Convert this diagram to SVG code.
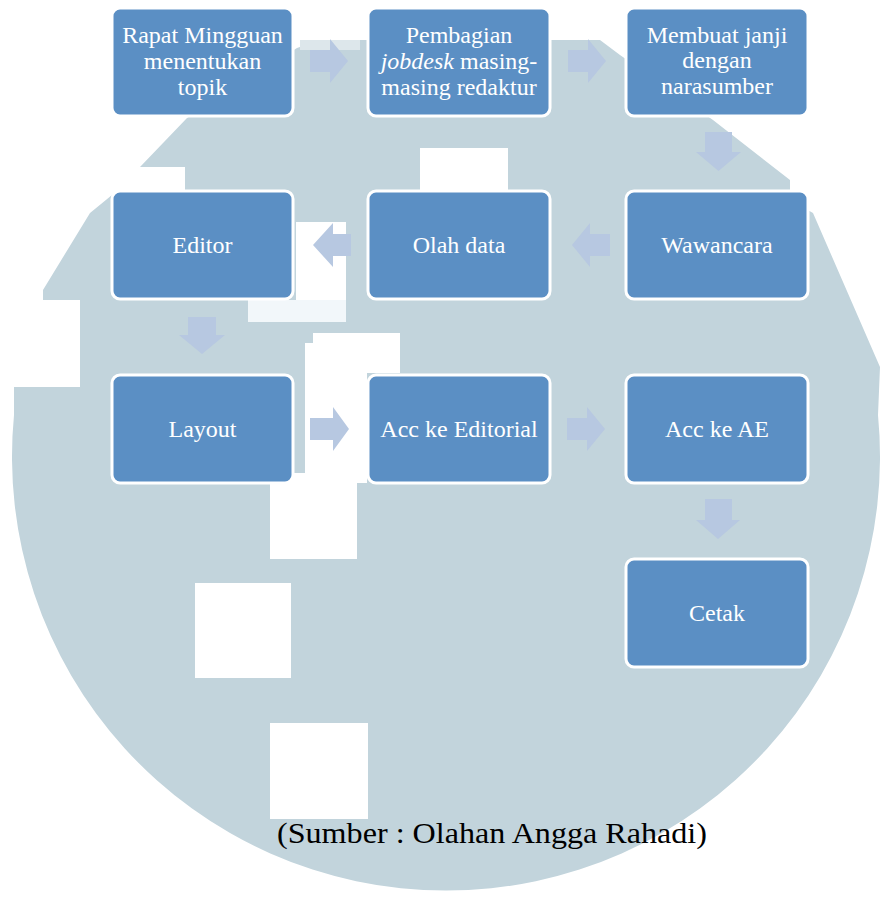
<svg xmlns="http://www.w3.org/2000/svg" width="885" height="901" viewBox="0 0 885 901">
<style>
.box{fill:#5B8FC4;stroke:#FFFFFF;stroke-width:3}
.lbl{font-size:24px;fill:#FFFFFF;text-anchor:middle}
.arr{fill:#B7C8E1}
.hole{fill:#FFFFFF}
.soft{fill:#F2F7FA}
</style>
<rect width="885" height="901" fill="#FFFFFF"/>
<g id="background">
<path d="M297,48 L320,40 L600,40 L620,55 L713,120 L790,180 L790,200 L813,213 L880,367 L878,415 A434,434 0 1 1 14,415 L14,387 L80,387 L80,300 L43,300 L43,290 L90,213 L112,195 L185,190 L185,167 L140,167 L187,118 Z" fill="#C2D4DC"/>
<rect x="300" y="40" width="60" height="10" fill="#DDE7EB"/>
<rect class="hole" x="420" y="148" width="88" height="42"/>
<rect class="hole" x="296" y="222" width="50" height="100"/>
<rect class="soft" x="248" y="300" width="98" height="22"/>
<rect class="hole" x="313" y="333" width="87" height="40"/>
<rect class="hole" x="305" y="343" width="62" height="140"/>
<rect class="hole" x="270" y="473" width="87" height="86"/>
<rect class="hole" x="195" y="583" width="96" height="95"/>
<rect class="hole" x="270" y="723" width="98" height="96"/>
</g>
<g id="connectors">
<polygon class="arr" points="310,50 330,50 330,39 348,61 330,83 330,72 310,72"/>
<polygon class="arr" points="568,50 588,50 588,39 606,61 588,83 588,72 568,72"/>
<polygon class="arr" points="705,132 732,132 732,152 741,152 718.5,171 696,152 705,152"/>
<polygon class="arr" points="610,234 590,234 590,223 572,245 590,267 590,256 610,256"/>
<polygon class="arr" points="351,234 333,234 333,223 313,245 333,267 333,256 351,256"/>
<polygon class="arr" points="188,317 216,317 216,335 225,335 202,354 179,335 188,335"/>
<polygon class="arr" points="310,418 333,418 333,407 349,429 333,451 333,440 310,440"/>
<polygon class="arr" points="567,418 587,418 587,407 605,429 587,451 587,440 567,440"/>
<polygon class="arr" points="705,499 732,499 732,520 740,520 718,539 696,520 705,520"/>
</g>
<g font-family="'Liberation Serif','Times New Roman',serif">
<g id="n1"><rect class="box" x="112" y="8" width="181" height="108" rx="8"/>
<text class="lbl" x="202.5" y="43">Rapat Mingguan</text><text class="lbl" x="202.5" y="69">menentukan</text><text class="lbl" x="202.5" y="95">topik</text></g>
<g id="n2"><rect class="box" x="368" y="8" width="182" height="108" rx="8"/>
<text class="lbl" x="459" y="43">Pembagian</text><text class="lbl" x="459" y="69"><tspan font-style="italic">jobdesk</tspan> masing-</text><text class="lbl" x="459" y="95">masing redaktur</text></g>
<g id="n3"><rect class="box" x="626" y="8" width="182" height="108" rx="8"/>
<text class="lbl" x="717" y="43">Membuat janji</text><text class="lbl" x="717" y="68">dengan</text><text class="lbl" x="717" y="94">narasumber</text></g>
<g id="n4"><rect class="box" x="112" y="191" width="181" height="108" rx="8"/><text class="lbl" x="202.5" y="253">Editor</text></g>
<g id="n5"><rect class="box" x="368" y="191" width="182" height="108" rx="8"/><text class="lbl" x="459" y="253">Olah data</text></g>
<g id="n6"><rect class="box" x="626" y="191" width="182" height="108" rx="8"/><text class="lbl" x="717" y="253">Wawancara</text></g>
<g id="n7"><rect class="box" x="112" y="375" width="181" height="108" rx="8"/><text class="lbl" x="202.5" y="437">Layout</text></g>
<g id="n8"><rect class="box" x="368" y="375" width="182" height="108" rx="8"/><text class="lbl" x="459" y="437">Acc ke Editorial</text></g>
<g id="n9"><rect class="box" x="626" y="375" width="182" height="108" rx="8"/><text class="lbl" x="717" y="437">Acc ke AE</text></g>
<g id="n10"><rect class="box" x="626" y="559" width="182" height="108" rx="8"/><text class="lbl" x="717" y="621">Cetak</text></g>
<text x="492" y="843" font-size="30" fill="#000000" text-anchor="middle" textLength="430" lengthAdjust="spacingAndGlyphs">(Sumber : Olahan Angga Rahadi)</text>
</g>
</svg>
